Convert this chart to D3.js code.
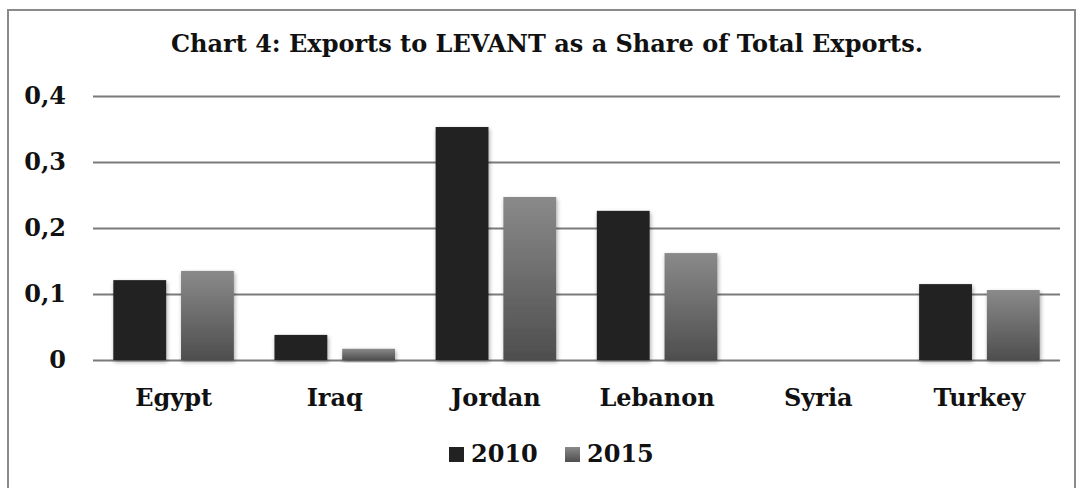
<!DOCTYPE html>
<html>
<head>
<meta charset="utf-8">
<script src="https://cdn.jsdelivr.net/npm/d3@7"></script>
<style>
  body { margin: 0; background: #fff; overflow: hidden; }
  svg { display: block; }
  text { font-family: "DejaVu Serif", serif; font-weight: bold; fill: #111; }
</style>
</head>
<body>
<svg width="1083" height="488"></svg>
<script>
const categories = ["Egypt", "Iraq", "Jordan", "Lebanon", "Syria", "Turkey"];
const seriesNames = ["2010", "2015"];
const values2010 = [0.121, 0.038, 0.353, 0.226, 0, 0.115];
const values2015 = [0.135, 0.017, 0.247, 0.162, 0, 0.106];
const yTicks = [0, 0.1, 0.2, 0.3, 0.4];
const yTickLabels = ["0", "0,1", "0,2", "0,3", "0,4"];
const chartTitle = "Chart 4: Exports to LEVANT as a Share of Total Exports.";

const svg = d3.select("svg");
const width = +svg.attr("width");
const height = +svg.attr("height");
const margin = { top: 96, right: 23, bottom: 128, left: 93 };
const innerWidth = width - margin.left - margin.right;
const innerHeight = height - margin.top - margin.bottom;

const rows = categories.map((c, i) => ({ cat: c, vals: [values2010[i], values2015[i]] }));

// frame (bottom edge is outside the picture)
svg.append("path")
  .attr("d", `M8,${height} V10 H1075 V${height}`)
  .attr("fill", "none").attr("stroke", "#8a8a8a").attr("stroke-width", 2);

const defs = svg.append("defs");
const grad = defs.append("linearGradient")
  .attr("id", "grad2015").attr("x1", 0).attr("y1", 0).attr("x2", 0).attr("y2", 1);
grad.append("stop").attr("offset", "0%").attr("stop-color", "#8a8a8a");
grad.append("stop").attr("offset", "100%").attr("stop-color", "#4e4e4e");

const shadow = defs.append("filter").attr("id", "shadow")
  .attr("x", "-20%").attr("y", "-20%").attr("width", "140%").attr("height", "140%");
shadow.append("feDropShadow")
  .attr("dx", 1).attr("dy", 2).attr("stdDeviation", 2)
  .attr("flood-color", "#000").attr("flood-opacity", 0.35);

const colors = ["#222222", "url(#grad2015)"];

const g = svg.append("g").attr("transform", `translate(${margin.left}, ${margin.top})`);

const xScale = d3.scaleBand().domain(categories).range([0, innerWidth]).padding(0);
const xInner = d3.scaleBand().domain([0, 1])
  .range([xScale.bandwidth() * 0.126, xScale.bandwidth() * 0.874])
  .paddingInner(0.22);
const yScale = d3.scaleLinear().domain([0, 0.4]).range([innerHeight, 0]);

// gridlines
const yAxis = d3.axisLeft(yScale)
  .tickValues(yTicks)
  .tickSize(-innerWidth)
  .tickFormat("");

const yAxisG = g.append("g").call(yAxis);
yAxisG.select(".domain").remove();
yAxisG.selectAll(".tick line").attr("stroke", "#7a7a7a").attr("stroke-width", 2);

// y labels
g.selectAll(".ylabel").data(yTicks).enter().append("text")
  .attr("class", "ylabel")
  .attr("x", -27)
  .attr("y", (d) => yScale(d))
  .attr("dy", "0.35em")
  .attr("text-anchor", "end")
  .attr("font-size", 24)
  .text((d, i) => yTickLabels[i]);

// bars
const groups = g.selectAll(".grp").data(rows).enter().append("g")
  .attr("class", "grp")
  .attr("transform", (d) => `translate(${xScale(d.cat)}, 0)`);

groups.selectAll("rect")
  .data((d) => d.vals.map((v, i) => ({ v, i })))
  .enter()
  .filter((d) => d.v > 0)
  .append("rect")
  .attr("x", (d) => xInner(d.i))
  .attr("y", (d) => yScale(d.v))
  .attr("width", xInner.bandwidth())
  .attr("height", (d) => yScale(0) - yScale(d.v))
  .attr("fill", (d) => colors[d.i])
  .attr("filter", "url(#shadow)");

// category labels
g.selectAll(".xlabel").data(categories).enter().append("text")
  .attr("class", "xlabel")
  .attr("x", (d) => xScale(d) + xScale.bandwidth() / 2)
  .attr("y", innerHeight + 38)
  .attr("dy", "0.35em")
  .attr("text-anchor", "middle")
  .attr("font-size", 24)
  .text((d) => d);

// title
svg.append("text")
  .attr("x", 547).attr("y", 44)
  .attr("dy", "0.35em")
  .attr("text-anchor", "middle")
  .attr("font-size", 24)
  .text(chartTitle);

// legend
const legendX = [449, 565];
const legend = svg.selectAll(".legend").data(seriesNames).enter().append("g")
  .attr("class", "legend")
  .attr("transform", (d, i) => `translate(${legendX[i]}, 454)`);
legend.append("rect")
  .attr("x", 0).attr("y", -7)
  .attr("width", 15).attr("height", 15)
  .attr("fill", (d, i) => colors[i]);
legend.append("text")
  .attr("x", 22).attr("dy", "0.35em")
  .attr("font-size", 24)
  .text((d) => d);
</script>
</body>
</html>
